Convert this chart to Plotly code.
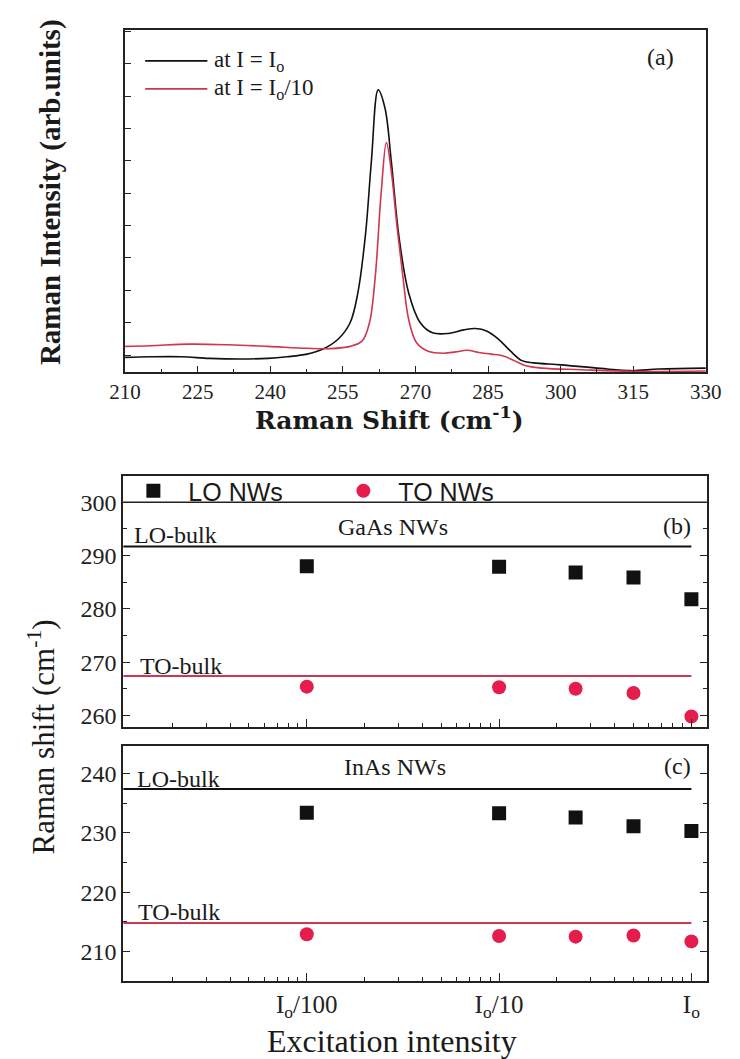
import plotly.graph_objects as go

# ---------------- data ----------------
# (a) Raman spectra
shift_hi = [210, 215.3, 221.7, 227.4, 233.8, 239.5, 243.5, 247.6, 250.8, 254, 256.5, 258.1,
            259.7, 260.9, 262.3, 263.7, 265, 266.6, 268.6, 271, 273.5, 276.8, 280, 282.4,
            284.8, 287.2, 289.6, 292, 294.4, 300.1, 308.2, 314.6, 320.3, 330]
inten_hi = [-0.07, -0.05, -0.05, -0.10, -0.12, -0.10, -0.05, 0.03, 0.18, 0.49, 1.0, 1.92,
            3.76, 6.0, 8.19, 7.63, 6.0, 3.65, 1.92, 1.0, 0.69, 0.67, 0.78, 0.82,
            0.74, 0.49, 0.13, -0.17, -0.24, -0.30, -0.41, -0.48, -0.43, -0.40]

shift_lo = [210, 215.3, 223.3, 231.4, 239.5, 247.6, 252.4, 256.5, 259, 260.5, 261.7, 262.9,
            264, 265, 266.2, 267.4, 268.6, 270.2, 272.6, 275.9, 278.3, 280.7, 283.1, 285.6,
            288, 290.4, 292.8, 296.1, 304.2, 314.6, 330]
inten_lo = [0.27, 0.29, 0.34, 0.32, 0.27, 0.21, 0.20, 0.27, 0.44, 1.0, 2.43, 4.98,
            6.56, 5.69, 3.96, 2.43, 1.10, 0.39, 0.12, 0.06, 0.10, 0.15, 0.08, 0.03,
            -0.02, -0.17, -0.33, -0.40, -0.45, -0.50, -0.49]

# (b), (c) phonon positions vs excitation intensity (units of I_o)
excitation = [0.01, 0.1, 0.25, 0.5, 1.0]
gaas_lo = [288.0, 287.9, 286.8, 285.9, 281.8]
gaas_to = [265.4, 265.3, 265.0, 264.2, 259.8]
inas_lo = [233.4, 233.3, 232.6, 231.1, 230.3]
inas_to = [212.9, 212.6, 212.5, 212.7, 211.7]
gaas_bulk = [291.7, 267.4]   # LO, TO
inas_bulk = [237.4, 214.8]   # LO, TO
bulk_span = [0.00111, 1.0]   # horizontal extent of the bulk reference lines

spectrum_ticks = [210, 225, 240, 255, 270, 285, 300, 315, 330]
exc_tickvals = [0.01, 0.1, 1.0]
exc_ticktext = ["I<sub>o</sub>/100", "I<sub>o</sub>/10", "I<sub>o</sub>"]

# ---------------- styling ----------------
W, H = 740, 1059
SERIF = "Liberation Serif"
WIDE_SERIF = "DejaVu Serif"
SANS = "Liberation Sans"
BLACK = "#111111"
RED_LINE = "#d0364f"
RED_MARK = "#e41d4c"
AX = "#222222"
TXT = "#1a1a1a"


def px_x(x):
    return x / W


def px_y(y):
    return 1 - y / H


fig = go.Figure()

# (a) spectra
fig.add_trace(go.Scatter(x=shift_hi, y=inten_hi, mode="lines", line=dict(color=BLACK, width=1.6, shape="spline"),
                         xaxis="x", yaxis="y", showlegend=False, name="at I = I_o"))
fig.add_trace(go.Scatter(x=shift_lo, y=inten_lo, mode="lines", line=dict(color=RED_LINE, width=1.6, shape="spline"),
                         xaxis="x", yaxis="y", showlegend=False, name="at I = I_o/10"))

# (b) GaAs
for val, col in zip(gaas_bulk, [BLACK, RED_LINE]):
    fig.add_trace(go.Scatter(x=bulk_span, y=[val, val], mode="lines", line=dict(color=col, width=2),
                             xaxis="x2", yaxis="y2", showlegend=False, hoverinfo="skip"))
fig.add_trace(go.Scatter(x=excitation, y=gaas_lo, mode="markers", name="LO NWs",
                         marker=dict(symbol="square", size=14, color=BLACK),
                         xaxis="x2", yaxis="y2", legend="legend2"))
fig.add_trace(go.Scatter(x=excitation, y=gaas_to, mode="markers", name="TO NWs",
                         marker=dict(symbol="circle", size=14, color=RED_MARK),
                         xaxis="x2", yaxis="y2", legend="legend2"))

# (c) InAs
for val, col in zip(inas_bulk, [BLACK, RED_LINE]):
    fig.add_trace(go.Scatter(x=bulk_span, y=[val, val], mode="lines", line=dict(color=col, width=2),
                             xaxis="x3", yaxis="y3", showlegend=False, hoverinfo="skip"))
fig.add_trace(go.Scatter(x=excitation, y=inas_lo, mode="markers", showlegend=False,
                         marker=dict(symbol="square", size=14, color=BLACK), xaxis="x3", yaxis="y3"))
fig.add_trace(go.Scatter(x=excitation, y=inas_to, mode="markers", showlegend=False,
                         marker=dict(symbol="circle", size=14, color=RED_MARK), xaxis="x3", yaxis="y3"))

frame = dict(showline=True, linecolor=AX, linewidth=1.5, mirror=True, showgrid=False, zeroline=False)
minor_exc = [m * 10 ** e for e in (-3, -2, -1) for m in range(2, 10)]

fig.update_layout(
    width=W, height=H, margin=dict(l=0, r=0, t=0, b=0),
    paper_bgcolor="white", plot_bgcolor="white",
    font=dict(family=SERIF, color=TXT),
    xaxis=dict(domain=[px_x(114), px_x(721)], anchor="y", range=[210, 330], tickvals=spectrum_ticks,
               ticks="inside", ticklen=7, tickwidth=1.3, tickcolor=AX,
               minor=dict(dtick=7.5, tick0=210, ticks="inside", ticklen=4, tickcolor=AX),
               tickfont=dict(family=SERIF, size=21, color="#222"), **frame),
    yaxis=dict(domain=[px_y(373), px_y(30)], anchor="x", range=[-0.53, 10.04], dtick=1, tick0=0,
               ticks="inside", ticklen=6, tickcolor=AX, showticklabels=False, **frame),
    xaxis2=dict(domain=[px_x(112), px_x(722)], anchor="y2", type="log", range=[-2.955, 0.08],
                tickvals=exc_tickvals, ticktext=["", "", ""], ticks="inside", ticklen=8, tickcolor=AX,
                minor=dict(tickvals=minor_exc, ticks="inside", ticklen=4, tickcolor=AX), **frame),
    yaxis2=dict(domain=[px_y(728), px_y(477)], anchor="x2", range=[257.9, 304.9], dtick=10, tick0=0,
                ticks="inside", ticklen=7, tickcolor=AX,
                minor=dict(dtick=5, tick0=0, ticks="inside", ticklen=4, tickcolor=AX),
                tickfont=dict(family=SERIF, size=24, color="#222"), **{**frame, "mirror": "ticks"}),
    xaxis3=dict(domain=[px_x(112), px_x(722)], anchor="y3", type="log", range=[-2.955, 0.08],
                tickvals=exc_tickvals, ticktext=exc_ticktext, ticks="inside", ticklen=8, tickcolor=AX,
                minor=dict(tickvals=minor_exc, ticks="inside", ticklen=4, tickcolor=AX),
                tickfont=dict(family=SERIF, size=25, color="#222"), **frame),
    yaxis3=dict(domain=[px_y(983), px_y(747)], anchor="x3", range=[205.0, 244.7], dtick=10, tick0=0,
                ticks="inside", ticklen=7, tickcolor=AX,
                minor=dict(dtick=5, tick0=0, ticks="inside", ticklen=4, tickcolor=AX),
                tickfont=dict(family=SERIF, size=24, color="#222"), **{**frame, "mirror": "ticks"}),
    legend2=dict(x=px_x(107), y=px_y(492), xanchor="left", yanchor="middle", orientation="h",
                 font=dict(family=SANS, size=25, color=TXT), bgcolor="rgba(0,0,0,0)",
                 itemwidth=60, entrywidth=135, entrywidthmode="pixels"),
)

# frame line closing the legend strip of panel (b)
fig.add_shape(type="line", xref="paper", yref="y2", x0=px_x(112), x1=px_x(722), y0=300, y1=300,
              line=dict(color=AX, width=1.5))

# legend of panel (a)
legend_a = [("at I = I<sub>o</sub>", BLACK, 61), ("at I = I<sub>o</sub>/10", RED_LINE, 89)]
for text, col, ypix in legend_a:
    fig.add_shape(type="line", xref="paper", yref="paper", x0=px_x(135), x1=px_x(200),
                  y0=px_y(ypix), y1=px_y(ypix), line=dict(color=col, width=1.6))
    fig.add_annotation(x=px_x(205), y=px_y(ypix), xref="paper", yref="paper", text=text, showarrow=False,
                       xanchor="left", yanchor="middle", font=dict(family=SERIF, size=23, color=TXT))


def label(text, xpix, ypix, size=24, family=SERIF, **kw):
    fig.add_annotation(x=px_x(xpix), y=px_y(ypix), xref="paper", yref="paper", text=text, showarrow=False,
                       xanchor="center", yanchor="middle", font=dict(family=family, size=size, color=TXT), **kw)


label("(a)", 674, 57)
label("(b)", 691, 527)
label("(c)", 691, 767)
label("GaAs NWs", 394, 528)
label("InAs NWs", 396, 768)
label("LO-bulk", 167, 536)
label("TO-bulk", 172, 667)
label("LO-bulk", 170, 780)
label("TO-bulk", 170, 914)

# axis titles
label("<b>Raman Shift (cm<sup>-1</sup>)</b>", 390, 419, 25, WIDE_SERIF)
label("<b>Raman Intensity (arb.units)</b>", 36, 192, 29, textangle=-90)
label("Raman shift (cm<sup>-1</sup>)", 27, 738, 31, textangle=-90)
label("Excitation intensity", 393, 1043, 32)

fig.write_html("out.html")
